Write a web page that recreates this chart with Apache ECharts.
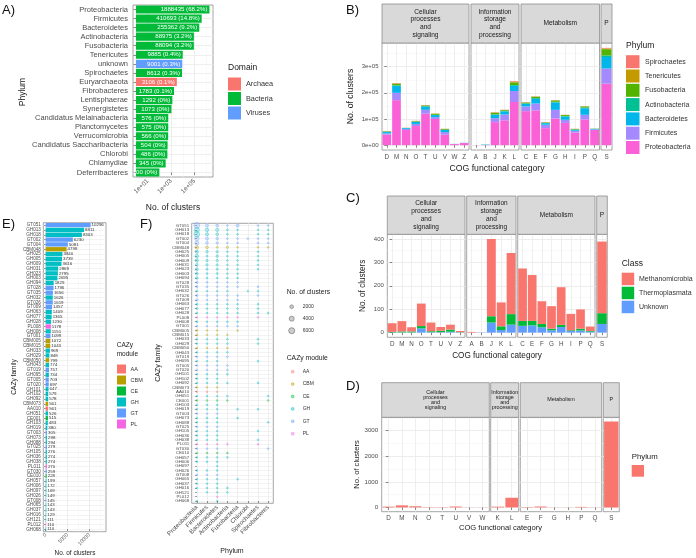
<!DOCTYPE html>
<html><head><meta charset="utf-8">
<script src="https://cdn.jsdelivr.net/npm/echarts@6/dist/echarts.min.js"></script>
<style>html,body{margin:0;padding:0;background:#fff}#c{width:696px;height:558px}</style>
</head><body><div id="c"></div>
<script>
// ================= DATA =================
// Panel A
const phylaA = ['Proteobacteria','Firmicutes','Bacteroidetes','Actinobacteria','Fusobacteria','Tenericutes','unknown','Spirochaetes','Euryarchaeota','Fibrobacteres','Lentisphaerae','Synergistetes','Candidatus Melainabacteria','Planctomycetes','Verrucomicrobia','Candidatus Saccharibacteria','Chlorobi','Chlamydiae','Deferribacteres'];
const countsA = [1888435,410693,255362,88975,88094,9885,9001,8612,3106,1783,1292,1073,576,575,566,504,486,345,100];
const pctA = ['68.2','14.8','9.2','3.2','3.2','0.4','0.3','0.3','0.1','0.1','0','0','0','0','0','0','0','0','0'];
const domainA = ['Bacteria','Bacteria','Bacteria','Bacteria','Bacteria','Bacteria','Viruses','Bacteria','Archaea','Bacteria','Bacteria','Bacteria','Bacteria','Bacteria','Bacteria','Bacteria','Bacteria','Bacteria','Bacteria'];
const domainNames = ['Archaea','Bacteria','Viruses'];
const tickLabelsA = ['1e+01','1e+03','1e+05'];

// Facet names (COG groups)
const facetNames = ['Cellular\nprocesses\nand\nsignaling','Information\nstorage\nand\nprocessing','Metabolism','P'];

// Panel B
const cogCatsB = [['D','M','N','O','T','U','V','W','Z'],['A','B','J','K','L'],['C','E','F','G','H','I','P','Q'],['S']];
const bProteobacteria = [40000,172000,58000,73000,120000,100000,40000,4000,8000, 300,500,88000,95000,165000, 130000,133000,65000,102000,85000,48000,98000,58000, 235000];
const bFirmicutes     = [5000,28000,4000,8000,15000,7000,10000,500,500, 100,300,15000,22000,42000, 18000,26000,13000,33000,12000,7000,18000,2000, 58000];
const bBacteroidetes  = [5000,27000,3000,8000,12000,8000,8000,300,400, 100,1200,13000,12000,20000, 10000,18000,6000,28000,12000,4000,25000,2000, 44000];
const bActinobacteria = [800,2000,500,1000,2000,1000,1000,100,100, 0,500,2000,2000,3000, 2000,3000,1000,3000,2000,1000,3000,500, 6000];
const bFusobacteria   = [2000,6000,500,2000,3000,4000,3000,0,100, 0,0,6000,3000,10000, 3000,5000,2000,5000,4000,2000,4000,500, 24000];
const bTenericutes    = [300,1500,200,500,800,500,300,0,0, 0,0,1000,800,3000, 600,800,400,800,500,300,600,200, 3000];
const bSpirochaetes   = [300,1000,200,500,700,500,300,0,0, 0,0,1000,600,2000, 600,600,400,600,500,300,500,200, 2000];
const tickValuesB = [0,100000,200000,300000];
const tickLabelsB = ['0e+00','1e+05','2e+05','3e+05'];

// Panel C
const cogCatsC = [['D','M','N','O','T','U','V','Z'],['A','B','J','K','L'],['C','E','F','G','H','I','P','Q'],['S']];
const cUnknown         = [1,1,1,18,2,2,4,1, 0,1,43,11,34, 29,31,23,10,24,7,9,4, 37];
const cThermoplasmata  = [2,4,4,10,4,6,9,1, 0,0,27,16,45, 21,19,14,7,9,3,8,3, 46];
const cMethanomicrobia = [37,44,18,96,37,16,21,5, 3,0,330,102,261, 224,196,97,96,161,70,82,19, 306];
const tickValuesC = [0,100,200,300,400];

// Panel D
const cogCatsD = [['D','M','N','O','T','U','V','W'],['K','L'],['E','F','G','H','P','Q'],['S']];
const dValues = [30,80,45,12,10,35,5,4, 30,377, 15,35,4,4,20,5, 3352];
const tickValuesD = [0,1000,2000,3000];

// Panel E
const familiesE = ['GT051','GH013','GH018','GT002','GT004','CBM048','GH025','GH005',
  'GH009','GH031','GH023','GH003','GH094','GT028','GT035','GH032',
  'GT026','GT009','GH063','GH077','GH028','PL008','GH008','GT001',
  'CBM005','CBM015','GH033','GH029','CBM050','GH043','GT019','GH095',
  'GT005','GT020','GH101','GH102','GH092','CBM073','AA010','GH051',
  'CE001','GH103','GH019','GT003','GH073','GH088','GT025','GH105',
  'GH036','GH038','PL011','GT030','CE010','GH057','GH006','GH097',
  'GH026','GT008','GH065','GH037','GH016','GH121','PL012','GH068'];
const countsE = [10296,8811,8303,6230,5081,4798,3840,3739,
  3616,2869,2795,2695,1829,1796,1656,1626,
  1619,1457,1409,1365,1230,1178,1151,1099,
  1072,1043,969,848,799,774,757,734,
  703,697,647,579,578,561,561,526,
  515,483,380,305,298,294,279,276,
  274,274,270,259,228,199,172,169,
  149,145,143,143,129,111,110,110];
const moduleE = ['GT','GH','GH','GT','GT','CBM','GH','GH',
  'GH','GH','GH','GH','GH','GT','GT','GH',
  'GT','GT','GH','GH','GH','PL','GH','GT',
  'CBM','CBM','GH','GH','CBM','GH','GT','GH',
  'GT','GT','GH','GH','GH','CBM','AA','GH',
  'CE','GH','GH','GT','GH','GH','GT','GH',
  'GH','GH','PL','GT','CE','GH','GH','GH',
  'GH','GT','GH','GH','GH','GH','PL','GH'];
const moduleNames = ['AA','CBM','CE','GH','GT','PL'];
const tickValuesE = [0,5000,10000];

// Panel F (clusters per family, by phylum; same family order as E)
const phylaF = ['Proteobacteria','Firmicutes','Bacteroidetes','Actinobacteria','Fusobacteria','Chlorobi','Spirochaetes','Fibrobacteres'];
const fProteobacteria = [5800,4200,5000,3100,2600,2000,1600,2000, 1800,1100,1200,1200,900,700,700,450, 650,700,600,500,450,400,500,400, 600,550,400,300,400,300,400,300, 300,250,300,420,200,300,400,120, 200,400,200,100,50,50,150,100, 100,100,50,110,80,60,70,0, 60,60,40,60,40,0,0,60];
const fFirmicutes     = [1500,2000,1500,1500,1100,1200,1000,500, 800,800,650,500,350,500,450,300, 450,350,350,350,300,300,300,300, 300,300,250,200,200,200,200,200, 200,200,200,100,200,200,100,150, 150,50,50,50,150,100,60,80, 90,80,80,80,60,60,60,0, 50,45,40,40,40,50,0,0];
const fBacteroidetes  = [1100,1700,1100,1000,800,500,800,900, 700,700,650,650,350,400,300,200, 300,250,300,300,300,300,200,250, 120,120,200,200,120,200,100,200, 150,200,100,50,120,60,60,200, 100,30,100,150,70,110,60,70, 80,70,100,50,60,60,40,169, 39,40,43,43,30,40,110,50];
const fActinobacteria = [300,500,350,300,300,800,300,200, 200,200,200,300,200,150,150,100, 120,100,100,150,100,100,100,100, 0,50,80,100,60,60,50,0, 50,40,40,0,40,0,0,40, 40,0,0,0,0,0,0,0, 0,0,20,0,20,20,0,0, 0,0,0,0,19,21,0,0];
const fFusobacteria   = [1400,250,200,200,150,150,100,100, 80,40,60,40,30,50,30,0, 60,40,40,40,40,50,30,40, 40,0,0,0,0,0,0,0, 0,0,0,0,0,0,0,0, 0,0,20,0,28,0,0,0, 0,0,0,0,0,0,0,0, 0,0,20,0,0,0,0,0];
const fChlorobi       = [0,0,0,30,0,0,0,0, 0,0,0,0,0,0,0,350, 0,0,0,0,0,0,0,0, 0,0,0,0,0,0,0,0, 0,0,0,0,0,0,0,0, 0,0,0,0,0,0,0,0, 0,0,0,0,0,0,0,0, 0,0,0,0,0,0,0,0];
const fSpirochaetes   = [100,80,80,60,80,80,40,40, 40,30,35,0,0,0,30,30, 30,0,20,25,20,20,0,0, 0,0,30,30,0,0,0,30, 0,0,0,0,20,0,0,0, 0,0,10,0,0,0,0,26, 0,24,20,0,0,0,0,0, 0,0,0,0,0,0,0,0];
const fFibrobacteres  = [90,80,70,40,50,70,0,0, 0,0,0,0,0,0,0,0, 0,0,0,0,20,0,0,0, 0,0,0,0,0,0,0,0, 0,0,0,0,0,0,0,20, 25,0,0,0,0,30,0,0, 0,0,0,20,0,0,0,0, 0,0,0,0,0,0,0,0];
const sizeLegendF = [2000,4000,6000];

// ================= STYLE =================
const FONT = "'Liberation Sans', Arial, Helvetica, sans-serif";
const TXT = '#4D4D4D';
const BORDER = '#8E8E8E';
const GMAJ = '#EBEBEB';
const GMIN = '#F3F3F3';
const domainColors = {Archaea:'#F8766D', Bacteria:'#00BA38', Viruses:'#619CFF'};
const phylumColorsB = {Spirochaetes:'#F8766D', Tenericutes:'#C49A00', Fusobacteria:'#53B400', Actinobacteria:'#00C094', Bacteroidetes:'#00B6EB', Firmicutes:'#A58AFF', Proteobacteria:'#FB61D7'};
const classColors = {Methanomicrobia:'#F8766D', Thermoplasmata:'#00BA38', Unknown:'#619CFF'};
const moduleColors = {AA:'#F8766D', CBM:'#B79F00', CE:'#00BA38', GH:'#00BFC4', GT:'#619CFF', PL:'#F564E3'};

function rgba(hex, a){ const n=parseInt(hex.slice(1),16); return 'rgba('+((n>>16)&255)+','+((n>>8)&255)+','+(n&255)+','+a+')'; }
const idx = n => Array.from({length:n}, (_,i)=>i);

const option = {animation:false, textStyle:{fontFamily:FONT}, grid:[], xAxis:[], yAxis:[], series:[], graphic:[]};

function addGrid(l,t,w,h){
  option.grid.push({left:l, top:t, width:w, height:h, show:true, borderColor:BORDER, borderWidth:0.8, backgroundColor:'#fff', containLabel:false, outerBoundsMode:'none'});
  return option.grid.length-1;
}
function addAxis(dim, ax){ option[dim].push(ax); return option[dim].length-1; }
function gridAxis(dim, gi, min, max, vals, color, width){
  return addAxis(dim, {type:'value', gridIndex:gi, min, max, silent:true,
    axisLine:{show:false}, axisTick:{show:false, customValues:vals}, axisLabel:{show:false, customValues:vals},
    splitLine:{show:true, lineStyle:{color, width}}});
}
function valAxis(dim, gi, o){
  return addAxis(dim, {type:'value', gridIndex:gi, min:o.min, max:o.max, inverse:!!o.inverse,
    axisLine:{show:false},
    axisTick:{show:o.showTicks!==false, customValues:o.ticks, length:o.tl||2.5, lineStyle:{color:'#555', width:0.7}},
    axisLabel:{show:o.showLabels!==false, customValues:o.ticks, formatter:o.fmt, fontSize:o.fs, color:TXT, margin:o.margin||4, rotate:o.rotate||0, fontFamily:FONT, hideOverlap:false},
    splitLine:{show:true, lineStyle:{color:GMAJ, width:0.9}}});
}
function catAxis(dim, gi, data, o){
  return addAxis(dim, {type:'category', gridIndex:gi, data, inverse:!!o.inverse,
    axisLine:{show:false},
    axisTick:{show:true, alignWithLabel:true, interval:0, length:o.tl||2.5, lineStyle:{color:'#555', width:0.7}},
    axisLabel:{interval:0, fontSize:o.fs, color:TXT, margin:o.margin||4, rotate:o.rotate||0, hideOverlap:false, fontFamily:FONT},
    splitLine:{show:false}});
}
function txt(x, y, text, fs, o){
  o = o||{};
  const st = {text, fontSize:fs, fontFamily:FONT, fill:o.color||'#1A1A1A', align:o.align||'left', textAlign:o.align||'left', verticalAlign:o.va||'middle', textVerticalAlign:o.va||'middle'};
  if (o.lh) st.lineHeight = o.lh;
  if (o.width) { st.width = o.width; st.overflow = 'truncate'; st.ellipsis = ''; }
  option.graphic.push({type:'text', x, y, rotation:o.rot||0, z:100, silent:true, style:st});
}
function rect(x,y,w,h,fill,stroke,lw){
  option.graphic.push({type:'rect', z:90, silent:true, shape:{x,y,width:w,height:h}, style:{fill, stroke:stroke||null, lineWidth:lw||0}});
}
function circ(cx,cy,r,fill,stroke,lw){
  option.graphic.push({type:'circle', z:90, silent:true, shape:{cx,cy,r}, style:{fill, stroke, lineWidth:lw}});
}

// ================= PANEL A =================
(function(){
  const g = addGrid(133, 5, 80, 172);
  const xi = valAxis('xAxis', g, {min:-0.25, max:6.58, ticks:[1,3,5], fmt:(v)=>tickLabelsA[(v-1)/2], fs:6.3, rotate:45, margin:3});
  gridAxis('xAxis', g, -0.25, 6.58, [0,2,4,6], GMIN, 0.5);
  const yi = catAxis('yAxis', g, phylaA, {inverse:true, fs:7.5, margin:5});
  gridAxis('yAxis', g, -0.5, phylaA.length-0.5, idx(phylaA.length), GMAJ, 0.8);
  option.series.push({type:'bar', xAxisIndex:xi, yAxisIndex:yi, barCategoryGap:'10%',
    data: countsA.map((v,i)=>({value:Math.log10(v), itemStyle:{color:domainColors[domainA[i]]}})),
    label:{show:true, position:'insideRight', distance:2, fontSize:6.1, color:'#fff', fontFamily:FONT,
      formatter:p=>countsA[p.dataIndex]+' ('+pctA[p.dataIndex]+'%)'}});
  txt(173, 208, 'No. of clusters', 8.5, {align:'center'});
  txt(23, 92, 'Phylum', 8.5, {align:'center', rot:Math.PI/2});
  txt(228, 68, 'Domain', 8.5);
  domainNames.forEach((d,i)=>{
    const cy = 84 + 14.5*i;
    rect(228, cy-6.5, 13, 13, domainColors[d]);
    txt(246, cy, d, 7.3, {color:'#333'});
  });
  txt(2, 10, 'A)', 13, {color:'#111'});
})();

// ================= FACET HELPER =================
function facetPanel(cfg){
  let off = 0;
  cfg.cats.forEach((cats, f)=>{
    const [x0,x1] = cfg.facets[f];
    const g = addGrid(x0, cfg.top, x1-x0, cfg.height);
    const xi = catAxis('xAxis', g, cats, {fs:cfg.xfs, margin:cfg.xmargin});
    gridAxis('xAxis', g, -0.5, cats.length-0.5, idx(cats.length), GMAJ, 0.8);
    const yi = valAxis('yAxis', g, {min:cfg.yMin, max:cfg.yMax, ticks:cfg.ticks, fmt:cfg.fmt, fs:cfg.yfs, margin:cfg.ymargin, showLabels:f===0, showTicks:f===0});
    gridAxis('yAxis', g, cfg.yMin, cfg.yMax, cfg.minor, GMIN, 0.5);
    cfg.series.forEach(s=>{
      option.series.push({type:'bar', name:s.name, xAxisIndex:xi, yAxisIndex:yi, stack:'st'+g, barCategoryGap:'10%',
        itemStyle:{color:s.color}, data:s.data.slice(off, off+cats.length)});
    });
    rect(x0, cfg.stripTop, x1-x0, cfg.stripH, '#D9D9D9', BORDER, 0.8);
    txt((x0+x1)/2, cfg.stripTop+cfg.stripH/2, facetNames[f], cfg.sfs, {align:'center', lh:cfg.slh, color:'#1A1A1A', width:cfg.clip ? (x1-x0) : undefined});
    off += cats.length;
  });
}
function stackedMax(arrs){ return Math.max(...arrs[0].map((_,i)=>arrs.reduce((s,a)=>s+a[i],0))); }

// ================= PANEL B =================
(function(){
  const order = ['Proteobacteria','Firmicutes','Bacteroidetes','Actinobacteria','Fusobacteria','Tenericutes','Spirochaetes'];
  const arrs = [bProteobacteria,bFirmicutes,bBacteroidetes,bActinobacteria,bFusobacteria,bTenericutes,bSpirochaetes];
  const mx = stackedMax(arrs);
  facetPanel({cats:cogCatsB, facets:[[382,469],[471,519],[521,599.5],[601,612]], top:43, height:107,
    yMin:-0.05*mx, yMax:1.05*mx, ticks:tickValuesB, minor:[50000,150000,250000,350000],
    fmt:v=>tickLabelsB[tickValuesB.indexOf(v)], xfs:6.3, xmargin:4.5, yfs:6, ymargin:3.5,
    series:order.map((n,i)=>({name:n, color:phylumColorsB[n], data:arrs[i]})),
    stripTop:4, stripH:39, sfs:6.6, slh:7.8});
  txt(497, 169, 'COG functional category', 8.7, {align:'center'});
  txt(351, 96.5, 'No. of clusters', 8.7, {align:'center', rot:Math.PI/2});
  txt(626, 45.5, 'Phylum', 8.5);
  order.slice().reverse().forEach((n,i)=>{
    const cy = 61.7 + 14.3*i;
    rect(626, cy-6.5, 13.5, 13, phylumColorsB[n]);
    txt(645, cy, n, 7, {color:'#333'});
  });
  txt(346, 10, 'B)', 13, {color:'#111'});
})();

// ================= PANEL C =================
(function(){
  const order = ['Unknown','Thermoplasmata','Methanomicrobia'];
  const arrs = [cUnknown,cThermoplasmata,cMethanomicrobia];
  const mx = stackedMax(arrs);
  facetPanel({cats:cogCatsC, facets:[[387.3,465],[466.7,516],[517.7,595],[596.7,607.3]], top:234.3, height:103,
    yMin:-0.05*mx, yMax:1.05*mx, ticks:tickValuesC, minor:[50,150,250,350],
    fmt:v=>String(v), xfs:6.3, xmargin:3.5, yfs:6, ymargin:3.5,
    series:order.map((n,i)=>({name:n, color:classColors[n], data:arrs[i]})),
    stripTop:196, stripH:38.3, sfs:6.5, slh:7.8});
  txt(497, 355.7, 'COG functional category', 8.2, {align:'center'});
  txt(363, 285.8, 'No. of clusters', 8.2, {align:'center', rot:Math.PI/2});
  txt(621.7, 263.3, 'Class', 8.5);
  order.slice().reverse().forEach((n,i)=>{
    const cy = 279 + 14*i;
    rect(621.7, cy-6.3, 12.5, 12.5, classColors[n]);
    txt(639, cy, n, 7, {color:'#333'});
  });
  txt(346, 198, 'C)', 13, {color:'#111'});
})();

// ================= PANEL D =================
(function(){
  const mx = Math.max(...dValues);
  facetPanel({cats:cogCatsD, facets:[[381.7,489.3],[490.7,518.7],[520.3,601.7],[603.3,619.3]], top:417.3, height:94.4,
    yMin:-0.05*mx, yMax:1.05*mx, ticks:tickValuesD, minor:[500,1500,2500,3500],
    fmt:v=>String(v), xfs:6.3, xmargin:4, yfs:6.2, ymargin:3.5,
    series:[{name:'Phylum', color:'#F8766D', data:dValues}],
    stripTop:382.7, stripH:34.6, sfs:5.4, slh:5.1, clip:true});
  txt(500.5, 528.3, 'COG functional category', 7.6, {align:'center'});
  txt(356.7, 464.5, 'No. of clusters', 7.6, {align:'center', rot:Math.PI/2});
  txt(631.7, 456.7, 'Phylum', 7.8);
  rect(631.7, 465, 12.3, 11.7, '#F8766D');
  txt(346, 386, 'D)', 13, {color:'#111'});
})();

// ================= PANEL E =================
(function(){
  const g = addGrid(43.3, 222.7, 62.7, 309);
  const xi = valAxis('xAxis', g, {min:-550, max:13830, ticks:tickValuesE, fmt:v=>String(v), fs:5.3, rotate:45, margin:2.5, tl:2});
  gridAxis('xAxis', g, -550, 13830, [2500,7500,12500], GMIN, 0.5);
  const yi = catAxis('yAxis', g, familiesE, {inverse:true, fs:4.6, margin:2.5, tl:1.5});
  gridAxis('yAxis', g, -0.5, familiesE.length-0.5, idx(familiesE.length), GMAJ, 0.6);
  option.series.push({type:'bar', xAxisIndex:xi, yAxisIndex:yi, barCategoryGap:'10%',
    data: countsE.map((v,i)=>({value:v, itemStyle:{color:moduleColors[moduleE[i]]}})),
    label:{show:true, position:'right', distance:1, fontSize:4.4, color:'#333', fontFamily:FONT}});
  txt(75, 553.5, 'No. of clusters', 6.4, {align:'center'});
  txt(14, 377, 'CAZy family', 6.6, {align:'center', rot:Math.PI/2});
  txt(116.7, 350, 'CAZy\nmodule', 6.5, {lh:9});
  moduleNames.forEach((m,i)=>{
    const cy = 369 + 11*i;
    rect(117, cy-4.5, 9, 9, moduleColors[m]);
    txt(130.5, cy, m, 5.5, {color:'#333'});
  });
  txt(2, 224, 'E)', 13, {color:'#111'});
})();

// ================= PANEL F =================
(function(){
  const g = addGrid(191.7, 223.3, 81.6, 280);
  const xi = catAxis('xAxis', g, phylaF, {fs:6.2, rotate:45, margin:3, tl:2});
  gridAxis('xAxis', g, -0.5, phylaF.length-0.5, idx(phylaF.length), GMAJ, 0.8);
  const yi = catAxis('yAxis', g, familiesE, {inverse:true, fs:4.4, margin:2.5, tl:1.5});
  gridAxis('yAxis', g, -0.5, familiesE.length-0.5, idx(familiesE.length), GMAJ, 0.6);
  const cols = [fProteobacteria,fFirmicutes,fBacteroidetes,fActinobacteria,fFusobacteria,fChlorobi,fSpirochaetes,fFibrobacteres];
  const sizeF = v => Math.max(1.8, 5.6*Math.sqrt(v/6000)+0.4);
  moduleNames.forEach(m=>{
    const data = [];
    familiesE.forEach((fam,r)=>{
      if (moduleE[r] !== m) return;
      cols.forEach((col,p)=>{ if (col[r] > 0) data.push([p, r, col[r]]); });
    });
    option.series.push({type:'scatter', name:m, xAxisIndex:xi, yAxisIndex:yi, data,
      symbolSize:val=>sizeF(val[2]),
      itemStyle:{color:rgba(moduleColors[m],0.3), borderColor:rgba(moduleColors[m],0.75), borderWidth:0.6}});
  });
  txt(232, 551, 'Phylum', 7, {align:'center'});
  txt(158, 363, 'CAZy family', 7, {align:'center', rot:Math.PI/2});
  txt(286.7, 292.3, 'No. of clusters', 6.8);
  sizeLegendF.forEach((v,i)=>{
    const cy = 306.7 + 12*i;
    circ(291.7, cy, sizeF(v)/2, 'rgba(90,90,90,0.3)', '#666', 0.6);
    txt(302.7, cy, String(v), 5, {color:'#333'});
  });
  txt(286.7, 357.7, 'CAZy module', 6.8);
  moduleNames.forEach((m,i)=>{
    const cy = 371.7 + 12.4*i;
    circ(292.7, cy, 1.4, rgba(moduleColors[m],0.35), rgba(moduleColors[m],0.8), 0.6);
    txt(302.7, cy, m, 5, {color:'#333'});
  });
  txt(140, 224, 'F)', 13, {color:'#111'});
})();

const chart = echarts.init(document.getElementById('c'), null, {renderer:'canvas'});
chart.setOption(option);
</script>
</body></html>
